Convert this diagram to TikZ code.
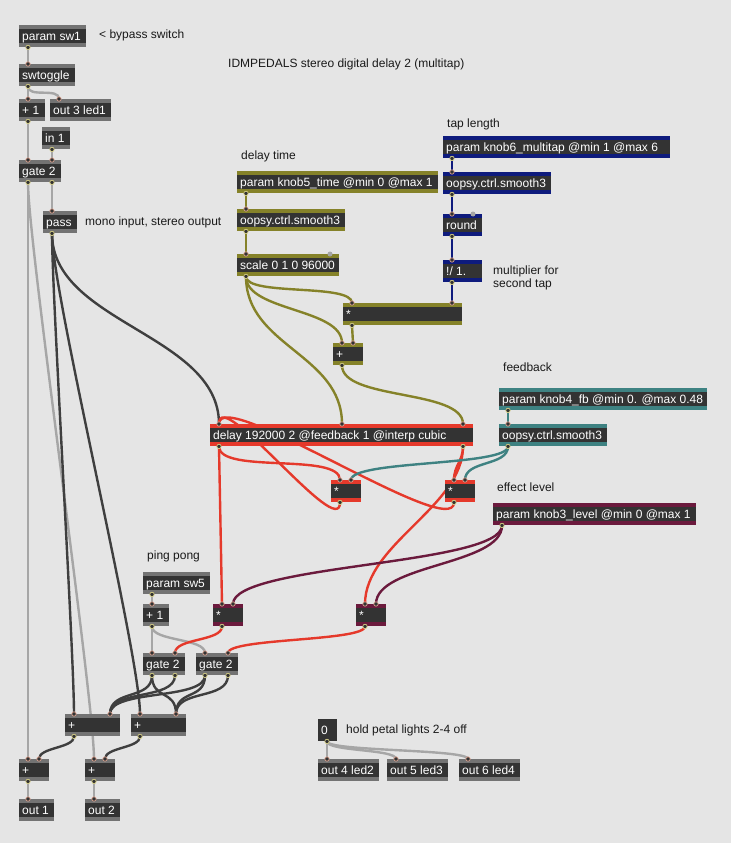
\documentclass[tikz,border=0pt]{standalone}
\usepackage{fontspec}
\setmainfont{Liberation Sans}
\hyphenpenalty=10000
\exhyphenpenalty=10000

\definecolor{patchbg}{HTML}{E5E5E5}
\definecolor{objbody}{HTML}{333333}
\definecolor{bandgrey}{HTML}{737373}
\definecolor{bandolive}{HTML}{858229}
\definecolor{bandnavy}{HTML}{0E1B7D}
\definecolor{bandteal}{HTML}{3E8282}
\definecolor{bandred}{HTML}{E5392B}
\definecolor{bandplum}{HTML}{6B1A3D}
\definecolor{wirectl}{HTML}{A6A6A6}
\definecolor{wiresig}{HTML}{3F3F3F}
\definecolor{inring}{HTML}{D9A18F}
\definecolor{outring}{HTML}{D6CF86}

\pgfdeclarelayer{back}
\pgfdeclarelayer{wires}
\pgfsetlayers{back,wires,main}

\tikzset{
  maxobj/.style 2 args={anchor=north west, fill=objbody, text=white,
    font=\fontsize{12}{13.5}\selectfont, inner xsep=3pt, inner ysep=0pt,
    text width=#2pt, align=flush left, text height=10pt, text depth=1pt, minimum height=22pt,
    path picture={
      \fill[#1] (path picture bounding box.north west) rectangle ([yshift=-4pt]path picture bounding box.north east);
      \fill[#1] (path picture bounding box.south west) rectangle ([yshift=4pt]path picture bounding box.south east);
    }},
  patchnote/.style={anchor=base west, inner sep=0pt, text=black!90, font=\fontsize{12}{13.5}\selectfont},
  wire/.style={line width=2.4pt, line cap=round},
  ctlwire/.style={wire, draw=wirectl},
  sigwire/.style={wire, draw=wiresig},
  olivewire/.style={wire, draw=bandolive},
  navywire/.style={wire, draw=bandnavy},
  tealwire/.style={wire, draw=bandteal},
  redwire/.style={wire, draw=bandred},
  plumwire/.style={wire, draw=bandplum},
  inlet/.style={fill=objbody, draw=inring, line width=0.7pt},
  outlet/.style={fill=objbody, draw=outring, line width=0.7pt}
}

\begin{document}
\begin{tikzpicture}[x=1pt, y=-1pt]
\useasboundingbox (0,0) rectangle (731,843);
\begin{pgfonlayer}{back}
\fill[patchbg] (0,0) rectangle (731,843);
\end{pgfonlayer}

% comments
\node[patchnote] (bypassnote) at (99,39) {< bypass switch};
\node[patchnote] (title) at (228,67.5) {IDMPEDALS stereo digital delay 2 (multitap)};
\node[patchnote] (mononote) at (85,225) {mono input, stereo output};
\node[patchnote] (timenote) at (241,159) {delay time};
\node[patchnote] (tapnote) at (447,127) {tap length};
\node[patchnote, anchor=north west, align=flush left] (multnote) at (493,265.5) {multiplier for\\second tap};
\node[patchnote] (fbnote) at (503,371.5) {feedback};
\node[patchnote] (lvlnote) at (497,491) {effect level};
\node[patchnote] (pingnote) at (147,559) {ping pong};
\node[patchnote] (holdnote) at (346,733) {hold petal lights 2-4 off};

% bypass and input
\node[maxobj={bandgrey}{61}] (sw1) at (19,25) {param sw1};
\node[maxobj={bandgrey}{50}] (swtog) at (19,64) {swtoggle};
\node[maxobj={bandgrey}{20}] (plusA) at (19,99) {+ 1};
\node[maxobj={bandgrey}{55}] (led1) at (50,99) {out 3 led1};
\node[maxobj={bandgrey}{22}] (in1) at (42,127) {in 1};
\node[maxobj={bandgrey}{36}] (gate) at (19,160) {gate 2};
\node[maxobj={bandgrey}{28}] (pass) at (43,211) {pass};

% delay time and tap length
\node[maxobj={bandolive}{195}] (knobtime) at (237,171) {param knob5\_time @min 0 @max 1};
\node[maxobj={bandolive}{102}] (smtime) at (237,209) {oopsy.ctrl.smooth3};
\node[maxobj={bandolive}{96}] (scale) at (237,254) {scale 0 1 0 96000};
\node[maxobj={bandnavy}{221}] (knobtap) at (443,136) {param knob6\_multitap @min 1 @max 6};
\node[maxobj={bandnavy}{102}] (smtap) at (443,172) {oopsy.ctrl.smooth3};
\node[maxobj={bandnavy}{33}] (round) at (443,214) {round};
\node[maxobj={bandnavy}{33}] (rdiv) at (443,260) {!/ 1.};
\node[maxobj={bandolive}{113}] (multap) at (343,303) {*};
\node[maxobj={bandolive}{24}] (addtap) at (333,343) {+};

% delay line and feedback
\node[maxobj={bandred}{257}] (delay) at (210,424) {delay 192000 2 @feedback 1 @interp cubic};
\node[maxobj={bandred}{24}] (fbA) at (331,480) {*};
\node[maxobj={bandred}{24}] (fbB) at (445,480) {*};
\node[maxobj={bandteal}{202}] (knobfb) at (499,388) {param knob4\_fb @min 0. @max 0.48};
\node[maxobj={bandteal}{102}] (smfb) at (499,424) {oopsy.ctrl.smooth3};
\node[maxobj={bandplum}{197}] (knoblvl) at (493,503) {param knob3\_level @min 0 @max 1};

% ping pong and outputs
\node[maxobj={bandgrey}{61}] (sw5) at (143,572) {param sw5};
\node[maxobj={bandgrey}{20}] (plusB) at (143,604) {+ 1};
\node[maxobj={bandplum}{24}] (lvlA) at (213,604) {*};
\node[maxobj={bandplum}{24}] (lvlB) at (356,604) {*};
\node[maxobj={bandgrey}{36}] (gateA) at (143,653) {gate 2};
\node[maxobj={bandgrey}{36}] (gateB) at (196,653) {gate 2};
\node[maxobj={bandgrey}{49}] (sumA) at (65,714) {+};
\node[maxobj={bandgrey}{49}] (sumB) at (131,714) {+};
\node[maxobj={bandgrey}{24}] (addL) at (19,759) {+};
\node[maxobj={bandgrey}{24}] (addR) at (85,759) {+};
\node[maxobj={bandgrey}{29}] (outL) at (19,799) {out 1};
\node[maxobj={bandgrey}{29}] (outR) at (85,799) {out 2};
\node[maxobj={objbody}{13}] (zero) at (318,719) {0};
\node[maxobj={bandgrey}{55}] (led2) at (318,759) {out 4 led2};
\node[maxobj={bandgrey}{55}] (led3) at (387,759) {out 5 led3};
\node[maxobj={bandgrey}{55}] (led4) at (459,759) {out 6 led4};

\begin{pgfonlayer}{wires}
% bypass
\draw[ctlwire] ([xshift=9pt]sw1.south west) -- ([xshift=9pt]swtog.north west);
\draw[ctlwire] ([xshift=9pt]swtog.south west) -- ([xshift=9pt]plusA.north west);
\draw[ctlwire] ([xshift=9pt]swtog.south west) .. controls +(0,12) and +(0,-12) .. ([xshift=9pt]led1.north west);
\draw[ctlwire] ([xshift=9pt]plusA.south west) -- ([xshift=9pt]gate.north west);
\draw[ctlwire] ([xshift=10pt]in1.south west) -- ([xshift=33pt]gate.north west);
\draw[ctlwire] ([xshift=9pt]gate.south west) -- ([xshift=9pt]addL.north west);
\draw[ctlwire] ([xshift=9pt]gate.south west) .. controls +(0,60) and +(0,-60) .. ([xshift=9pt]addR.north west);
\draw[ctlwire] ([xshift=33pt]gate.south west) -- ([xshift=9pt]pass.north west);
% dry signal, delay input
\draw[sigwire] ([xshift=9pt]pass.south west) .. controls +(0,90) and +(0,-90) .. ([xshift=9pt]delay.north west);
\draw[sigwire] ([xshift=9pt]pass.south west) .. controls +(0,60) and +(0,-60) .. ([xshift=9pt]sumA.north west);
\draw[sigwire] ([xshift=9pt]pass.south west) .. controls +(0,60) and +(0,-60) .. ([xshift=9pt]sumB.north west);
% delay time
\draw[olivewire] ([xshift=9pt]knobtime.south west) -- ([xshift=9pt]smtime.north west);
\draw[olivewire] ([xshift=9pt]smtime.south west) -- ([xshift=9pt]scale.north west);
\draw[olivewire] ([xshift=9pt]scale.south west) .. controls +(0,20) and +(0,-20) .. ([xshift=9pt]multap.north west);
\draw[olivewire] ([xshift=9pt]scale.south west) .. controls +(0,35) and +(0,-35) .. ([xshift=9pt]addtap.north west);
\draw[olivewire] ([xshift=9pt]scale.south west) .. controls +(0,70) and +(0,-70) .. ([xshift=132pt]delay.north west);
\draw[olivewire] ([xshift=9pt]multap.south west) -- ([xshift=20pt]addtap.north west);
\draw[olivewire] ([xshift=9pt]addtap.south west) .. controls +(0,35) and +(0,-35) .. ([xshift=253pt]delay.north west);
% tap length
\draw[navywire] ([xshift=9pt]knobtap.south west) -- ([xshift=9pt]smtap.north west);
\draw[navywire] ([xshift=9pt]smtap.south west) -- ([xshift=9pt]round.north west);
\draw[navywire] ([xshift=9pt]round.south west) -- ([xshift=9pt]rdiv.north west);
\draw[navywire] ([xshift=9pt]rdiv.south west) -- ([xshift=109pt]multap.north west);
% delay outputs and feedback loops
\draw[redwire] ([xshift=9pt]delay.south west) -- ([xshift=9pt]lvlA.north west);
\draw[redwire] ([xshift=9pt]delay.south west) .. controls +(0,28) and +(0,-28) .. ([xshift=9pt]fbA.north west);
\draw[redwire] ([xshift=253pt]delay.south west) .. controls +(0,15) and +(0,-15) .. ([xshift=9pt]fbB.north west);
\draw[redwire] ([xshift=253pt]delay.south west) .. controls +(0,60) and +(0,-60) .. ([xshift=9pt]lvlB.north west);
\draw[redwire] ([xshift=9pt]fbA.south west) .. controls +(0,40) and +(0,-40) .. ([xshift=9pt]delay.north west);
\draw[redwire] ([xshift=9pt]fbB.south west) .. controls +(0,40) and +(0,-40) .. ([xshift=9pt]delay.north west);
% feedback amount
\draw[tealwire] ([xshift=9pt]knobfb.south west) -- ([xshift=9pt]smfb.north west);
\draw[tealwire] ([xshift=9pt]smfb.south west) .. controls +(0,20) and +(0,-20) .. ([xshift=20pt]fbA.north west);
\draw[tealwire] ([xshift=9pt]smfb.south west) .. controls +(0,20) and +(0,-20) .. ([xshift=20pt]fbB.north west);
% effect level
\draw[plumwire] ([xshift=9pt]knoblvl.south west) .. controls +(0,40) and +(0,-40) .. ([xshift=20pt]lvlA.north west);
\draw[plumwire] ([xshift=9pt]knoblvl.south west) .. controls +(0,40) and +(0,-40) .. ([xshift=20pt]lvlB.north west);
% ping pong
\draw[ctlwire] ([xshift=9pt]sw5.south west) -- ([xshift=9pt]plusB.north west);
\draw[ctlwire] ([xshift=9pt]plusB.south west) -- ([xshift=9pt]gateA.north west);
\draw[ctlwire] ([xshift=9pt]plusB.south west) .. controls +(0,15) and +(0,-15) .. ([xshift=9pt]gateB.north west);
\draw[redwire] ([xshift=9pt]lvlA.south west) .. controls +(0,15) and +(0,-15) .. ([xshift=32pt]gateA.north west);
\draw[redwire] ([xshift=9pt]lvlB.south west) .. controls +(0,15) and +(0,-15) .. ([xshift=32pt]gateB.north west);
\draw[sigwire] ([xshift=9pt]gateA.south west) .. controls +(0,25) and +(0,-25) .. ([xshift=45pt]sumA.north west);
\draw[sigwire] ([xshift=9pt]gateA.south west) .. controls +(0,25) and +(0,-25) .. ([xshift=45pt]sumB.north west);
\draw[sigwire] ([xshift=32pt]gateA.south west) .. controls +(0,25) and +(0,-25) .. ([xshift=45pt]sumA.north west);
\draw[sigwire] ([xshift=9pt]gateB.south west) .. controls +(0,25) and +(0,-25) .. ([xshift=45pt]sumA.north west);
\draw[sigwire] ([xshift=9pt]gateB.south west) .. controls +(0,25) and +(0,-25) .. ([xshift=45pt]sumB.north west);
\draw[sigwire] ([xshift=32pt]gateB.south west) .. controls +(0,25) and +(0,-25) .. ([xshift=45pt]sumB.north west);
% outputs
\draw[sigwire] ([xshift=9pt]sumA.south west) .. controls +(0,12) and +(0,-12) .. ([xshift=20pt]addL.north west);
\draw[sigwire] ([xshift=9pt]sumB.south west) .. controls +(0,12) and +(0,-12) .. ([xshift=20pt]addR.north west);
\draw[ctlwire] ([xshift=9pt]addL.south west) -- ([xshift=9pt]outL.north west);
\draw[ctlwire] ([xshift=9pt]addR.south west) -- ([xshift=9pt]outR.north west);
% petal lights
\draw[ctlwire] ([xshift=9pt]zero.south west) -- ([xshift=9pt]led2.north west);
\draw[ctlwire] ([xshift=9pt]zero.south west) .. controls +(0,10) and +(0,-10) .. ([xshift=9pt]led3.north west);
\draw[ctlwire] ([xshift=9pt]zero.south west) .. controls +(0,10) and +(0,-10) .. ([xshift=9pt]led4.north west);
\end{pgfonlayer}

% inlets and outlets
\foreach \n/\d in {swtog/9, plusA/9, led1/9, gate/9, gate/33, pass/9, smtime/9, scale/9,
  delay/9, delay/132, delay/253, multap/9, multap/109, addtap/9, addtap/20, smtap/9, round/9,
  rdiv/9, fbA/9, fbA/20, fbB/9, fbB/20, smfb/9, lvlA/9, lvlA/20, lvlB/9, lvlB/20, plusB/9,
  gateA/9, gateA/32, gateB/9, gateB/32, sumA/9, sumA/45, sumB/9, sumB/45, addL/9, addL/20,
  addR/9, addR/20, outL/9, outR/9, led2/9, led3/9, led4/9}
  \filldraw[inlet] ([xshift=\d pt]\n.north west) circle (2.2pt);
\foreach \n/\d in {sw1/9, swtog/9, plusA/9, in1/10, gate/9, gate/33, pass/9, knobtime/9,
  smtime/9, scale/9, knobtap/9, smtap/9, round/9, rdiv/9, multap/9, addtap/9, delay/9,
  delay/253, fbA/9, fbB/9, knobfb/9, smfb/9, knoblvl/9, sw5/9, plusB/9, lvlA/9, lvlB/9,
  gateA/9, gateA/32, gateB/9, gateB/32, sumA/9, sumB/9, addL/9, addR/9, zero/9}
  \filldraw[outlet] ([xshift=\d pt]\n.south west) circle (2.2pt);
\fill[wirectl] ([xshift=93pt]scale.north west) circle (2.5pt);
\fill[wirectl] ([xshift=30pt]round.north west) circle (2.5pt);
\end{tikzpicture}
\end{document}
